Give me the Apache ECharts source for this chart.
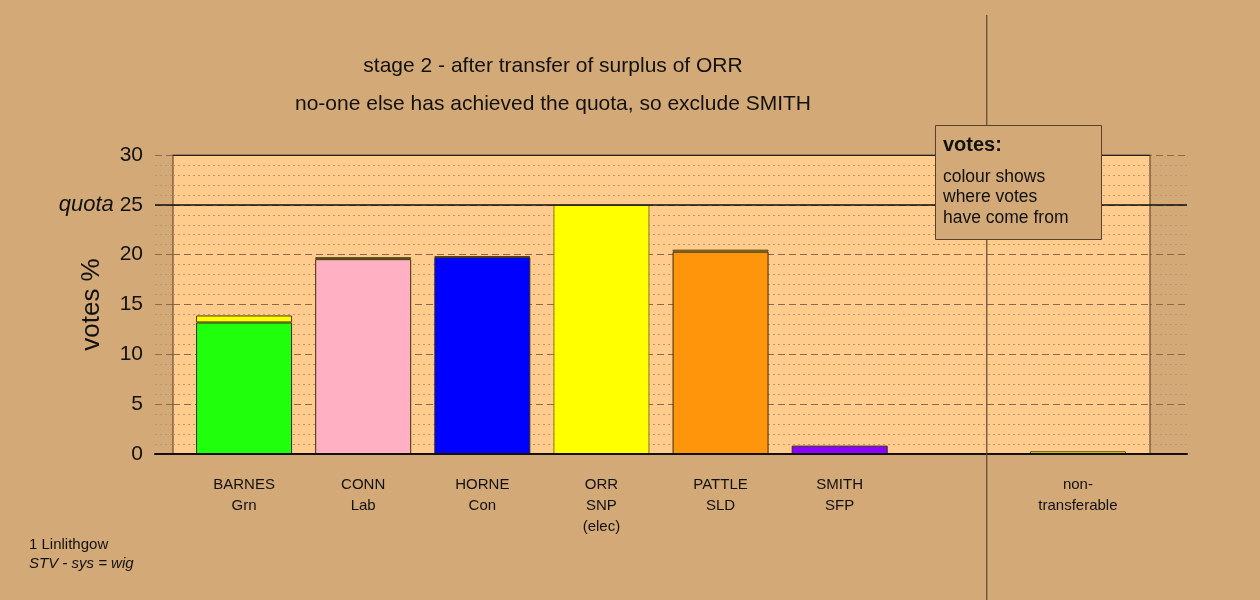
<!DOCTYPE html>
<html><head><meta charset="utf-8">
<script src="https://cdn.jsdelivr.net/npm/echarts@6/dist/echarts.min.js"></script>
<style>html,body{margin:0;padding:0;background:#d3a977}#c{width:1260px;height:600px}</style>
</head><body><div id="c"></div>
<script>
// ---- data ----
const categories = ['BARNES\nGrn', 'CONN\nLab', 'HORNE\nCon', 'ORR\nSNP\n(elec)', 'PATTLE\nSLD', 'SMITH\nSFP', '', 'non-\ntransferable'];
const ownVotes   = [13.2, 19.55, 19.75, 25, 20.3, 0.84, null, null];
const fromOrr    = [0.7, 0.2, 0.08, null, 0.2, null, null, 0.27];
const candidateColors = ['#20ff0c', '#ffb0c2', '#0000ff', '#ffff00', '#ff950a', '#8c00ff', '#ffffff', '#ffffff'];
const orrColor = '#ffff00';
const quota = 25;
const yMax = 30;
const dividerPos = 6.23;   // position of the divider between candidates and non-transferable
const titleLines = ['stage 2 - after transfer of surplus of ORR', 'no-one else has achieved the quota, so exclude SMITH'];
const noteLines = ['1 Linlithgow', 'STV - sys = wig'];
const legendTitle = 'votes:';
const legendLines = ['colour shows', 'where votes', 'have come from'];

const FONT = '"Liberation Sans", Arial, Helvetica, sans-serif';
const BG = '#d3a977', PLOT = '#ffcc8e';
const majorLine = {show: true, lineStyle: {color: '#8a6a48', width: 1.2, type: [7, 4]}};
const minorLine = {show: true, lineStyle: {color: '#b8966e', width: 1, type: [2, 3]}};

const chart = echarts.init(document.getElementById('c'), null, {renderer: 'canvas'});

const yBase = {type: 'value', min: 0, max: yMax, interval: 5,
  minorTick: {show: false, splitNumber: 5},
  splitLine: majorLine, minorSplitLine: minorLine,
  axisLine: {show: false}, axisTick: {show: false}};

const option = {
  backgroundColor: BG,
  animation: false,
  textStyle: {fontFamily: FONT},
  grid: [
    {left: 155, right: 73, top: 155, bottom: 146},
    {left: 173, right: 110, top: 155, bottom: 146, show: true, backgroundColor: PLOT,
     borderColor: '#6a4e32', borderWidth: 1.2, z: 1},
    {left: 184.5, right: 122.5, top: 155, bottom: 146}
  ],
  xAxis: [
    {gridIndex: 0, type: 'value', min: 0, max: 1, z: 5,
     axisLine: {show: true, onZero: true, lineStyle: {color: '#111', width: 2}},
     axisTick: {show: false}, axisLabel: {show: false}, splitLine: {show: false}},
    {gridIndex: 1, type: 'value', min: -0.6, max: 7.6, show: false, splitLine: {show: false}},
    {gridIndex: 2, type: 'category', data: categories,
     axisLine: {show: false}, axisTick: {show: false}, splitLine: {show: false},
     axisLabel: {interval: 0, margin: 20, fontSize: 15, lineHeight: 21, color: '#111', fontFamily: FONT}}
  ],
  yAxis: [
    Object.assign({}, yBase, {gridIndex: 0, z: 0,
      name: 'votes %', nameLocation: 'middle', nameRotate: 90, nameGap: 50, nameMoveOverlap: false,
      nameTextStyle: {fontSize: 26, color: '#111', fontFamily: FONT},
      axisLabel: {margin: 12, fontSize: 21, color: '#111', fontFamily: FONT,
        formatter: v => v === quota ? '{q|quota} ' + v : String(v),
        rich: {q: {fontStyle: 'italic', fontSize: 22, color: '#111', fontFamily: FONT}}}}),
    Object.assign({}, yBase, {gridIndex: 1, z: 2, axisLabel: {show: false}}),
    {gridIndex: 2, type: 'value', min: 0, max: yMax, show: false, splitLine: {show: false}}
  ],
  series: [
    {type: 'line', xAxisIndex: 0, yAxisIndex: 0, data: [], z: 4, silent: true,
     markLine: {silent: true, symbol: 'none', label: {show: false},
       lineStyle: {color: '#111', width: 1.5, type: 'solid'}, data: [{yAxis: quota}]}},
    {type: 'line', xAxisIndex: 1, yAxisIndex: 1, data: [], z: 4, silent: true,
     markLine: {silent: true, symbol: 'none', label: {show: false},
       lineStyle: {color: '#222', width: 1.2, type: 'solid'}, data: [{yAxis: yMax}]}},
    {type: 'bar', name: 'own', xAxisIndex: 2, yAxisIndex: 2, stack: 'v', barWidth: 96, z: 3,
     data: ownVotes.map((v, i) => ({value: v === null ? '-' : v,
       itemStyle: {color: candidateColors[i], borderColor: i === 3 ? '#8a7418' : '#3a2a12', borderWidth: 1}}))},
    {type: 'bar', name: 'from ORR', xAxisIndex: 2, yAxisIndex: 2, stack: 'v', barWidth: 96, z: 3,
     itemStyle: {color: orrColor, borderColor: '#4a3a10', borderWidth: 1},
     data: fromOrr.map(v => v === null ? '-' : v)}
  ]
};
chart.setOption(option);

const divX = chart.convertToPixel({xAxisIndex: 1}, dividerPos);
const txt = (t, x, y, font, align) => ({type: 'text', x: x, y: y, z: 110,
  style: {text: t, font: font, fill: '#111', align: align || 'left', verticalAlign: 'middle'}});
chart.setOption({graphic: [
  {type: 'line', z: 50, shape: {x1: divX, y1: 15, x2: divX, y2: 600},
   style: {stroke: '#5a4632', lineWidth: 1.2}},
  txt(titleLines[0], 553, 66, '21px ' + FONT, 'center'),
  txt(titleLines[1], 553, 104, '21px ' + FONT, 'center'),
  txt(noteLines[0], 29, 545, '15px ' + FONT),
  txt(noteLines[1], 29, 564, 'italic 15px ' + FONT),
  {type: 'rect', z: 100, shape: {x: 935.5, y: 125.5, width: 166, height: 114},
   style: {fill: BG, stroke: '#5a4028', lineWidth: 1}},
  txt(legendTitle, 943, 145, 'bold 20px ' + FONT),
  txt(legendLines[0], 943, 177, '17.5px ' + FONT),
  txt(legendLines[1], 943, 197.5, '17.5px ' + FONT),
  txt(legendLines[2], 943, 218, '17.5px ' + FONT)
]});
</script></body></html>
